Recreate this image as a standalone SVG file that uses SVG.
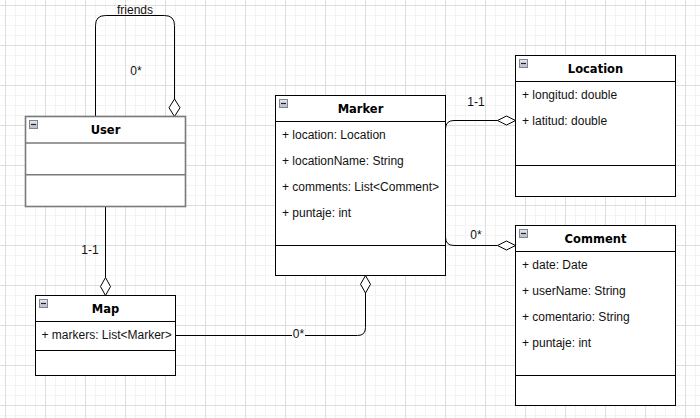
<svg xmlns="http://www.w3.org/2000/svg" width="700" height="418" viewBox="0 0 700 418">
<defs>
<pattern id="grid" x="5" y="5" width="40" height="40" patternUnits="userSpaceOnUse">
<path d="M10.5 0V40M20.5 0V40M30.5 0V40M0 10.5H40M0 20.5H40M0 30.5H40" stroke="#f3f3f3" stroke-width="1" fill="none"/>
<path d="M0.5 0V40M0 0.5H40" stroke="#dedede" stroke-width="1" fill="none"/>
</pattern>
<linearGradient id="ig" x1="0" y1="0" x2="0" y2="1">
<stop offset="0" stop-color="#e6e8ee"/>
<stop offset="1" stop-color="#b8bcc6"/>
</linearGradient>
<g id="icon">
<rect x="0.5" y="0.5" width="8" height="8" fill="url(#ig)" stroke="#7d8591" stroke-width="1"/>
<path d="M2 4.5H7" stroke="#222" stroke-width="1.2"/>
</g>
</defs>
<style>
.box{fill:#fff;stroke:#000;stroke-width:1}
.sel{fill:#fff;stroke:#7a7a7a;stroke-width:1.6}
.sep{stroke:#000;stroke-width:1;fill:none}
.sepg{stroke:#7a7a7a;stroke-width:1.6;fill:none}
.title{font-family:"DejaVu Sans",sans-serif;font-weight:bold;font-size:11.5px;fill:#000;text-anchor:middle}
.attr{font-family:"Liberation Sans",Arial,sans-serif;font-size:12px;fill:#111}
.lbl{font-family:"Liberation Sans",Arial,sans-serif;font-size:12px;fill:#111;text-anchor:middle}
.conn{fill:none;stroke:#000;stroke-width:1}
.dia{fill:#fff;stroke:#000;stroke-width:1}
</style>
<rect width="700" height="418" fill="#fff"/>
<rect width="700" height="418" fill="url(#grid)"/>

<g id="connectors">
<g id="friends">
<path class="conn" stroke="#333" d="M95.5 116.5V25.5Q95.5 15.5 105.5 15.5H164.5Q174.5 15.5 174.5 25.5V99"/>
<polygon class="dia" points="174.5,99 180,107.75 174.5,116.5 169,107.75"/>
<text class="lbl" x="135" y="13.5">friends</text>
<text class="lbl" x="136" y="74.5">0*</text>
</g>
<g id="user-map">
<path class="conn" d="M105.5 206.5V277.5"/>
<polygon class="dia" points="105.5,277.5 110.5,286.5 105.5,295.5 100.5,286.5"/>
<text class="lbl" x="90" y="253.5">1-1</text>
</g>
<g id="map-marker">
<path class="conn" d="M175.5 335.5H357.5Q365.5 335.5 365.5 327.5V293"/>
<polygon class="dia" points="365.5,275.5 370.5,284.25 365.5,293 360.5,284.25"/>
<rect x="292" y="329" width="13" height="11" fill="#fff"/>
<text class="lbl" x="298.5" y="338">0*</text>
</g>
<g id="marker-location">
<path class="conn" d="M445.5 129Q445.5 120.5 454 120.5H497.5"/>
<polygon class="dia" points="497.5,120.5 506.5,116 515.5,120.5 506.5,125"/>
<text class="lbl" x="476" y="106">1-1</text>
</g>
<g id="marker-comment">
<path class="conn" d="M445.5 237Q445.5 245.5 454 245.5H497.5"/>
<polygon class="dia" points="497.5,245.5 506.5,241 515.5,245.5 506.5,250"/>
<text class="lbl" x="476" y="238.5">0*</text>
</g>
</g>

<g id="User">
<rect class="sel" x="25.5" y="116.5" width="160" height="90"/>
<path class="sepg" d="M25.5 143H185.5M25.5 174.8H185.5"/>
<use href="#icon" x="29" y="120"/>
<text class="title" x="105.5" y="134">User</text>
</g>

<g id="Marker">
<rect class="box" x="275.5" y="95.5" width="170" height="180"/>
<path class="sep" d="M275.5 121.5H445.5M275.5 245.5H445.5"/>
<use href="#icon" x="279" y="99"/>
<text class="title" x="360.5" y="112.7">Marker</text>
<text class="attr" x="282" y="138.5">+ location: Location</text>
<text class="attr" x="282" y="164.5">+ locationName: String</text>
<text class="attr" x="282" y="190.5">+ comments: List&lt;Comment&gt;</text>
<text class="attr" x="282" y="216.5">+ puntaje: int</text>
</g>

<g id="Location">
<rect class="box" x="515.5" y="55.5" width="160" height="141"/>
<path class="sep" d="M515.5 81.5H675.5M515.5 165.5H675.5"/>
<use href="#icon" x="519" y="59"/>
<text class="title" x="595.5" y="72.7">Location</text>
<text class="attr" x="522" y="98.5">+ longitud: double</text>
<text class="attr" x="522" y="124.5">+ latitud: double</text>
</g>

<g id="Comment">
<rect class="box" x="515.5" y="225.5" width="160" height="180"/>
<path class="sep" d="M515.5 251.5H675.5M515.5 375.5H675.5"/>
<use href="#icon" x="519" y="229"/>
<text class="title" x="595.5" y="242.7">Comment</text>
<text class="attr" x="522" y="268.5">+ date: Date</text>
<text class="attr" x="522" y="294.5">+ userName: String</text>
<text class="attr" x="522" y="320.5">+ comentario: String</text>
<text class="attr" x="522" y="346.5">+ puntaje: int</text>
</g>

<g id="Map">
<rect class="box" x="35.5" y="295.5" width="140" height="80"/>
<path class="sep" d="M35.5 321.5H175.5M35.5 350.5H175.5"/>
<use href="#icon" x="39" y="299"/>
<text class="title" x="105.5" y="312.7">Map</text>
<text class="attr" x="41.5" y="339">+ markers: List&lt;Marker&gt;</text>
</g>
</svg>
